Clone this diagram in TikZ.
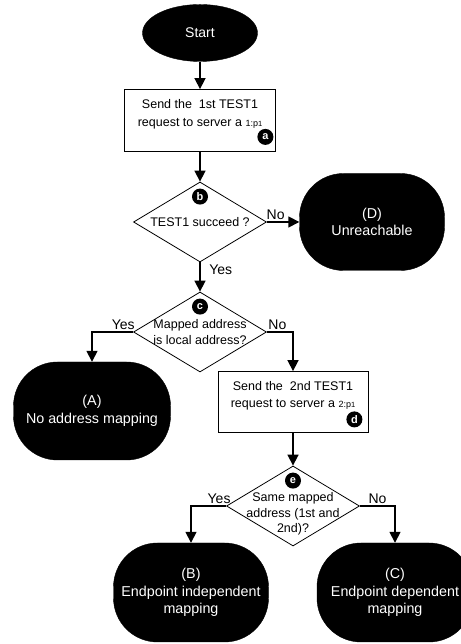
\documentclass[tikz,border=0pt]{standalone}
\usepackage{fontspec}
\setmainfont{Liberation Sans}
\usetikzlibrary{positioning,arrows.meta,shapes.geometric}
\newcommand{\addr}[1]{{\fontsize{9}{9}\selectfont #1:p}{\fontsize{7.5}{7.5}\selectfont 1}}
\tikzset{
  startnode/.style={ellipse, draw=black, fill=black, text=white, inner sep=0pt,
                    font=\fontsize{14}{17}\selectfont, minimum width=115pt, minimum height=57pt},
  term/.style    ={draw=black, fill=black, text=white, rounded corners=44pt, align=center,
                   inner sep=0pt, font=\fontsize{14.3}{17.5}\selectfont,
                   minimum width=155pt, minimum height=99pt},
  proc/.style    ={draw=black, line width=0.8pt, fill=white, align=center, inner sep=0pt,
                   font=\fontsize{12.5}{17.5}\selectfont, minimum width=151pt,
                   minimum height=62pt, text depth=15pt},
  dec/.style     ={diamond, draw=black, line width=0.8pt, inner sep=0pt,
                   minimum width=133pt, minimum height=80pt},
  dtext/.style   ={align=center, inner sep=0pt, font=\fontsize{12.5}{15.5}\selectfont},
  badge/.style   ={circle, fill=black, text=white, inner sep=0pt, minimum size=16pt,
                   font=\bfseries\fontsize{11}{11}\selectfont},
  ar/.style      ={-{Triangle[length=11pt,width=11pt]}, line width=1.6pt},
  lbl/.style     ={font=\fontsize{14}{14}\selectfont, inner sep=1.5pt},
}
\begin{document}
\begin{tikzpicture}[x=1pt,y=1pt]
\useasboundingbox (0,0) rectangle (460,644);

% first test
\node[startnode] (start) at (200,611) {Start};
\node[proc] (send1) at (200,523.5) {Send the\ \ 1st TEST1\\request to server a \addr{1}};
\node[badge] (ba) at ([shift={(-10.5,15)}]send1.south east) {a};

\node[dec] (dec1) at (200,422) {};
\node[badge] (bb) at ([yshift=-15pt]dec1.north) {b};
\node[dtext] (q1) at (dec1.center) {TEST1 succeed ?};
\node[term, minimum width=145pt, minimum height=97pt] (unr) at (372,422) {(D)\\Unreachable};

% local address check
\node[dec] (dec2) at (200,312) {};
\node[badge] (bc) at ([yshift=-15pt]dec2.north) {c};
\node[dtext] (q2) at (dec2.center) {Mapped address\\is local address?};
\node[term, minimum width=157pt, minimum height=98pt] (nomap) at (92,233) {(A)\\No address mapping};

% second test
\node[proc, minimum width=150pt, minimum height=61pt] (send2) at (293,242) {Send the\ \ 2nd TEST1\\request to server a \addr{2}};
\node[badge] (bd) at ([shift={(-14,13.5)}]send2.south east) {d};

\node[dec] (dec3) at (293,138) {};
\node[badge] (be) at ([yshift=-15pt]dec3.north) {e};
\node[dtext] (q3) at ([yshift=-8pt]dec3.center) {Same mapped\\address (1st and\\2nd)?};
\node[term] (indep) at (191,51.5) {(B)\\Endpoint independent\\mapping};
\node[term, minimum width=156pt] (dep) at (395,51.5) {(C)\\Endpoint dependent\\mapping};

% connectors
\draw[ar] (start) -- (send1);
\draw[ar] (send1) -- (dec1);
\draw[ar] (dec1) -- node[lbl,pos=0.27,above] {No} (unr);
\draw[ar] (dec1) -- node[lbl,pos=0.25,right=7pt] {Yes} (dec2);
\draw[ar] (dec2.west) -| node[lbl,pos=0.12,above] {Yes} (nomap.north);
\draw[ar] (dec2.east) -| node[lbl,pos=0.2,above] {No} (send2.north);
\draw[ar] (send2) -- (dec3);
\draw[ar] (dec3.west) -| node[lbl,pos=0.1,above] {Yes} (indep.north);
\draw[ar] (dec3.east) -| node[lbl,pos=0.25,above] {No} (dep.north);
\end{tikzpicture}
\end{document}
